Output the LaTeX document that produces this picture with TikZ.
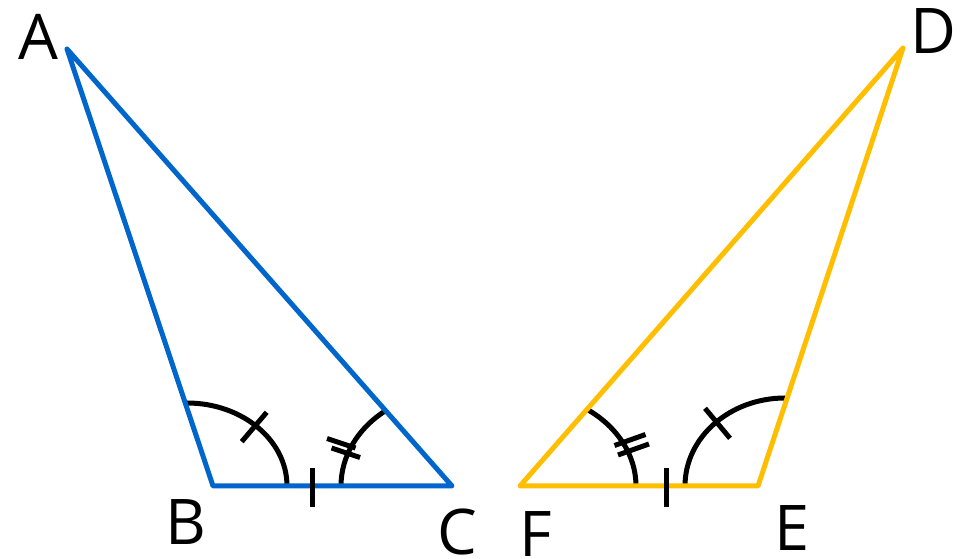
\documentclass[tikz,border=0pt]{standalone}
\usepackage{fontspec}
\setmainfont{Open Sans}
\definecolor{triblue}{RGB}{0,102,204}
\definecolor{triyellow}{RGB}{255,191,0}
\begin{document}
\begin{tikzpicture}[x=1pt,y=1pt,
  tri/.style={line width=5pt, line join=round, line cap=round},
  mk/.style={line width=5pt, draw=black},
  lbl/.style={font=\fontsize{63}{63}\selectfont, inner sep=0pt}]
\useasboundingbox (0,0) rectangle (962,559);
% vertices
\coordinate (A) at (67,510);
\coordinate (B) at (213,73);
\coordinate (C) at (452,73);
\coordinate (D) at (903,511);
\coordinate (E) at (758,73);
\coordinate (F) at (520,73);
% angle arcs
\draw[mk] (287,73) arc[start angle=0,end angle=90,x radius=100,y radius=83];
\draw[mk] (341,73) arc[start angle=180,end angle=126.7,x radius=111,y radius=94];
\draw[mk] (636,73) arc[start angle=0,end angle=54.7,x radius=116,y radius=94];
\draw[mk] (685,73) arc[start angle=180,end angle=90,x radius=100,y radius=88];
% triangles
\draw[tri, triblue] (A) -- (B) -- (C) -- cycle;
\draw[tri, triyellow] (D) -- (E) -- (F) -- cycle;
% tick marks
\draw[mk] (241.7,117.3) -- (266.7,146.7);
\draw[mk] (312,52) -- (312,91);
\draw[mk] (327,120.5) -- (355.5,111);
\draw[mk] (331.5,111) -- (360,101.5);
\draw[mk] (614.5,113.5) -- (645.5,124.5);
\draw[mk] (618,104) -- (649,115);
\draw[mk] (666,52) -- (666,91);
\draw[mk] (705,150.7) -- (730,120.7);
% labels
\node[lbl] (lA) at (38.3,522.3) {A};
\node[lbl] (lB) at (185.8,36.5) {B};
\node[lbl] (lC) at (457.5,27.3) {C};
\node[lbl] (lD) at (933,528.2) {D};
\node[lbl] (lE) at (792.5,30.7) {E};
\node[lbl] (lF) at (535.8,25) {F};
\end{tikzpicture}
\end{document}
